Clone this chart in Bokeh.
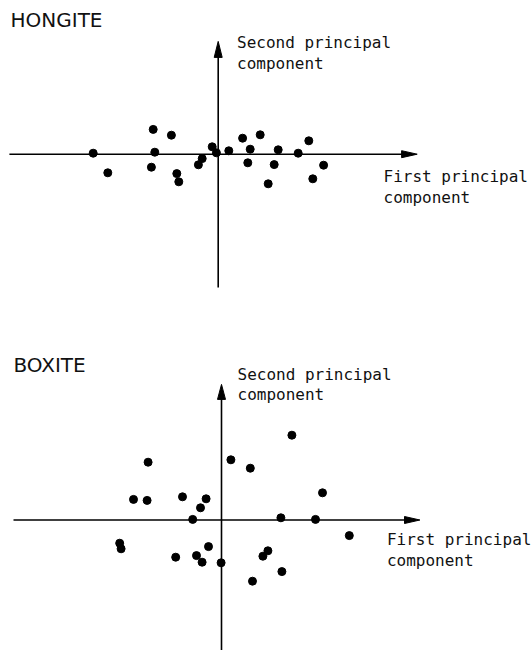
from bokeh.plotting import figure
from bokeh.layouts import column
from bokeh.models import Range1d, ColumnDataSource
from bokeh.core.properties import value
from bokeh.embed import file_html
from bokeh.resources import INLINE

# ---- data (principal component scores) ----
hongite_pc1 = [-6.25, -5.52, -3.25, -3.17, -3.34, -2.34, -2.07, -1.97, -0.99, -0.80,
               -0.30, -0.09, 0.53, 1.22, 1.60, 1.48, 2.10, 3.00, 2.80, 2.50,
               4.00, 4.53, 5.27, 4.73]
hongite_pc2 = [0.05, -0.93, 1.24, 0.10, -0.65, 0.95, -0.97, -1.38, -0.53, -0.22,
               0.37, 0.07, 0.17, 0.80, 0.25, -0.43, 0.97, 0.22, -0.52, -1.48,
               0.05, 0.67, -0.55, -1.23]

boxite_pc1 = [-3.67, -4.40, -3.72, -1.95, -0.77, -1.05, -1.44, 0.47, 1.44, 3.52,
              5.05, 2.97, 4.70, 6.39, -5.09, -5.02, -2.29, -1.25, -0.97, -0.65,
              -0.02, 2.32, 2.07, 1.55, 3.02]
boxite_pc2 = [2.89, 1.03, 0.98, 1.16, 1.06, 0.61, 0.03, 3.01, 2.59, 4.24,
              1.36, 0.11, 0.03, -0.78, -1.16, -1.44, -1.86, -1.78, -2.11, -1.33,
              -2.14, -1.54, -1.81, -3.06, -2.58]

titles = ["HONGITE", "BOXITE"]
y_label = ["Second principal", "component"]
x_label = ["First principal", "component"]

LABEL_FONT = value("DejaVu Sans Mono")
TITLE_FONT = value("DejaVu Sans")


def panel(pc1, pc2, title, height, xr, yr, ax, title_pos, ylab_pos, xlab_pos):
    p = figure(width=531, height=height, x_range=Range1d(*xr), y_range=Range1d(*yr),
               output_backend="svg", toolbar_location=None,
               x_axis_location=None, y_axis_location=None, min_border=0)
    p.grid.visible = False
    p.outline_line_color = None
    p.background_fill_color = "white"
    p.border_fill_color = "white"

    # axes with arrow heads
    x0, x_tip, x_base, y_bot, y_tip, y_base, hw_v, hw_h = ax
    p.segment(x0=[x0], y0=[0], x1=[x_base + 0.2], y1=[0], line_color="black", line_width=1.6)
    p.segment(x0=[0], y0=[y_bot], x1=[0], y1=[y_base + 0.2], line_color="black", line_width=1.6)
    p.patch([x_base, x_tip, x_base], [hw_h, 0, -hw_h], color="black", line_width=1)
    p.patch([-hw_v, 0, hw_v], [y_base, y_tip, y_base], color="black", line_width=1)

    src = ColumnDataSource(dict(x=pc1, y=pc2))
    p.scatter("x", "y", source=src, size=8, color="black")

    p.text(x=[title_pos[0]], y=[title_pos[1]], text=[title], text_font=TITLE_FONT,
           text_font_size="20px", text_color="#111111", text_baseline="alphabetic",
           text_align="left")
    p.text(x=[ylab_pos[0]] * 2, y=[ylab_pos[1], ylab_pos[1] - 1.03], text=y_label,
           text_font=LABEL_FONT, text_font_size="16px", text_color="#111111",
           text_baseline="alphabetic", text_align="left")
    p.text(x=[xlab_pos[0]] * 2, y=[xlab_pos[1], xlab_pos[1] - 1.05], text=x_label,
           text_font=LABEL_FONT, text_font_size="16px", text_color="#111111",
           text_baseline="alphabetic", text_align="left")
    return p


p1 = panel(hongite_pc1, hongite_pc2, titles[0], 322,
           (-10.885, 15.665), (-8.415, 7.685),
           (-10.44, 9.95, 9.17, -6.67, 5.64, 4.84, 0.2, 0.175),
           (-10.385, 6.735), (0.94, 5.585), (8.265, -1.115))

p2 = panel(boxite_pc1, boxite_pc2, titles[1], 328,
           (-11.05, 15.5), (-6.525, 9.875),
           (-10.4, 9.92, 9.15, -7.0, 6.78, 6.03, 0.2, 0.175),
           (-10.405, 7.775), (0.8, 7.3), (8.27, -0.975))

layout = column(p1, p2, spacing=0)
open("out.html", "w").write(file_html(layout, INLINE))
